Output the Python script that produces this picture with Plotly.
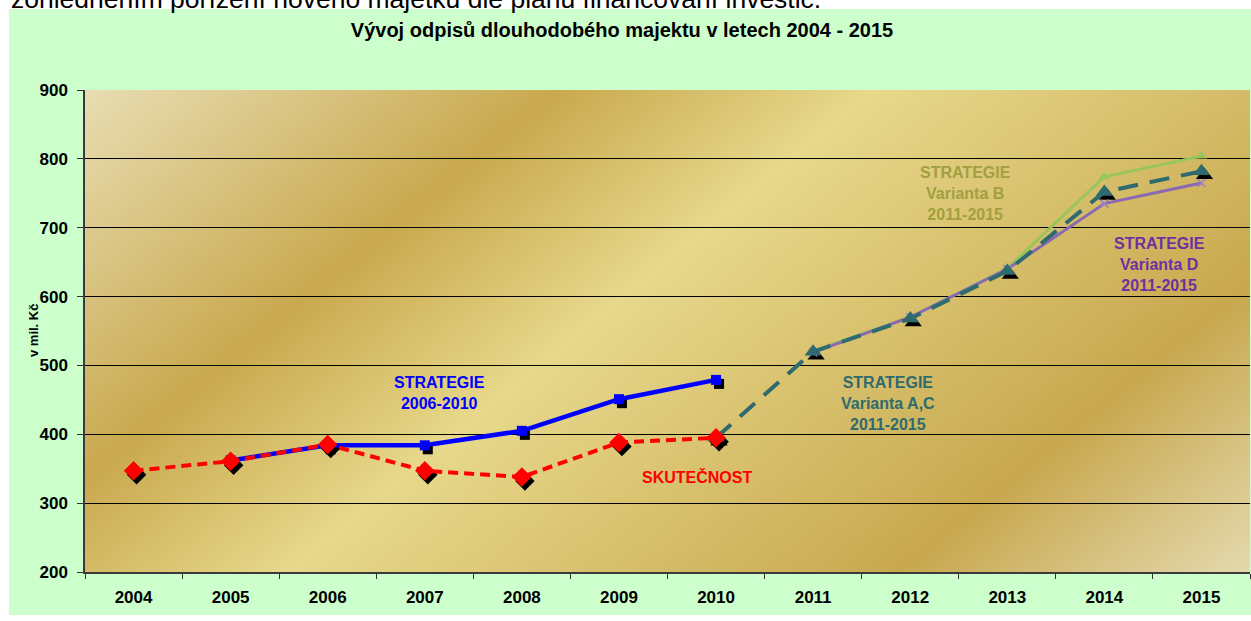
import base64
import plotly.graph_objects as go

years = ["2004", "2005", "2006", "2007", "2008", "2009", "2010",
         "2011", "2012", "2013", "2014", "2015"]
skutecnost = [347, 361, 385, 347, 338, 388, 395, None, None, None, None, None]
strategie_2006_2010 = [None, 362, 384, 384, 405, 451, 479, None, None, None, None, None]
varianta_ac = [None, None, None, None, None, None, 395, 520, 568, 637, 752, 782]
varianta_b = [None, None, None, None, None, None, None, 521, 570, 641, 774, 804]
varianta_d = [None, None, None, None, None, None, None, 519, 570, 640, 735, 765]
y_ticks = [200, 300, 400, 500, 600, 700, 800, 900]

FONT = "Liberation Sans, Arial, sans-serif"

# plot-area geometry (pixels)
L, R, T, B = 85, 1, 90, 49
W, H = 1251, 621
PW, PH = W - L - R, H - T - B

# shadow offset (pixels) -> axis units
sx, sy = 3, 4
dx = sx * 12 / PW
dy = sy * 700 / PH

fig = go.Figure()

# ---- shadows (main axes, shifted range) ----
for vals, sym, size in [(strategie_2006_2010, "square", 10),
                        (varianta_ac, "triangle-up", 15),
                        (skutecnost, "diamond", 15)]:
    fig.add_trace(go.Scatter(x=years, y=vals, mode="markers", xaxis="x", yaxis="y",
                             marker=dict(symbol=sym, size=size, color="black"),
                             hoverinfo="skip", showlegend=False))

# ---- data (overlay axes) ----
fig.add_trace(go.Scatter(x=years, y=strategie_2006_2010, mode="lines+markers",
                         xaxis="x2", yaxis="y2", name="STRATEGIE 2006-2010",
                         line=dict(color="#0000FF", width=4.5),
                         marker=dict(symbol="square", size=10, color="#0000FF")))
fig.add_trace(go.Scatter(x=years, y=varianta_b, mode="lines+markers",
                         xaxis="x2", yaxis="y2", name="Varianta B",
                         line=dict(color="#98C65C", width=3),
                         marker=dict(symbol="triangle-up", size=10, color="#98C65C")))
fig.add_trace(go.Scatter(x=years, y=varianta_d, mode="lines+markers",
                         xaxis="x2", yaxis="y2", name="Varianta D",
                         line=dict(color="#8A68B4", width=3),
                         marker=dict(symbol="x-thin", size=8,
                                     line=dict(color="#9C80C4", width=1.5))))
fig.add_trace(go.Scatter(x=years, y=varianta_ac, mode="lines+markers",
                         xaxis="x2", yaxis="y2", name="Varianta A,C",
                         line=dict(color="#2F6A6E", width=4, dash="20px,12px"),
                         marker=dict(symbol="triangle-up", size=15, color="#2F6A6E")))
fig.add_trace(go.Scatter(x=years, y=skutecnost, mode="lines+markers",
                         xaxis="x2", yaxis="y2", name="SKUTEČNOST",
                         line=dict(color="#FF0000", width=4, dash="10px,6px"),
                         marker=dict(symbol="diamond", size=15, color="#FF0000")))

# ---- gradient background image ----
svg = (
    f'<svg xmlns="http://www.w3.org/2000/svg" width="{PW}" height="{PH}" '
    f'viewBox="0 0 {PW} {PH}" preserveAspectRatio="none"><defs>'
    '<linearGradient id="g" gradientUnits="userSpaceOnUse" x1="0" y1="0" x2="706" y2="860">'
    '<stop offset="0" stop-color="#E8DDB2"/>'
    '<stop offset="0.27" stop-color="#C9A94F"/>'
    '<stop offset="0.45" stop-color="#E7D88B"/>'
    '<stop offset="0.8" stop-color="#C8A84F"/>'
    '<stop offset="1" stop-color="#E4D9AE"/>'
    '</linearGradient></defs>'
    f'<rect width="{PW}" height="{PH}" fill="url(#g)"/></svg>'
)
src = "data:image/svg+xml;base64," + base64.b64encode(svg.encode()).decode()

def px_x(p):
    return (p - L) / PW

def px_y(p):
    return (H - B - p) / PH

tick_font = dict(family=FONT, size=17, color="black", weight="bold")

fig.update_layout(
    width=W, height=H,
    margin=dict(l=L, r=R, t=T, b=B),
    paper_bgcolor="white",
    plot_bgcolor="rgba(0,0,0,0)",
    showlegend=False,
    title=dict(text="<b>Vývoj odpisů dlouhodobého majektu v letech 2004 - 2015</b>",
               x=622 / W, y=1 - 30 / H, xanchor="center", yanchor="middle",
               font=dict(family=FONT, size=20, color="black")),
    xaxis=dict(type="category", categoryorder="array", categoryarray=years,
               range=[-0.5 - dx, 11.5 - dx], visible=False, showgrid=False),
    yaxis=dict(range=[200 + dy, 900 + dy], visible=False, showgrid=False),
    xaxis2=dict(type="category", categoryorder="array", categoryarray=years,
                overlaying="x", anchor="y2", range=[-0.5, 11.5],
                tickson="boundaries", ticks="outside", ticklen=5, tickcolor="#333",
                showline=True, linecolor="#3a3a3a", linewidth=2, showgrid=False,
                tickfont=tick_font, ticklabelstandoff=9),
    yaxis2=dict(overlaying="y", anchor="x2", side="left", range=[200, 900],
                tickvals=y_ticks, ticks="outside", ticklen=6, tickcolor="#333",
                showline=True, linecolor="#3a3a3a", linewidth=1.5,
                showgrid=True, gridcolor="black", gridwidth=1, zeroline=False,
                tickfont=tick_font, ticklabelstandoff=6),
    images=[dict(source=src, xref="x domain", yref="y domain", x=0, y=1,
                 sizex=1, sizey=1, xanchor="left", yanchor="top",
                 sizing="stretch", layer="below")],
    shapes=[dict(type="rect", xref="paper", yref="paper",
                 x0=px_x(9), x1=px_x(W + 2), y0=px_y(615), y1=px_y(9),
                 fillcolor="#CCFFCC", line=dict(width=0), layer="below")],
)

ann_font = lambda c: dict(family=FONT, size=16, color=c)
annotations = [
    dict(text="<b>STRATEGIE<br>2006-2010</b>", x=3.15, y=460, color="#0000FF"),
    dict(text="<b>SKUTEČNOST</b>", x=5.80, y=338, color="#FF0000"),
    dict(text="<b>STRATEGIE<br>Varianta A,C<br>2011-2015</b>", x=7.77, y=444, color="#2F6A6E"),
    dict(text="<b>STRATEGIE<br>Varianta B<br>2011-2015</b>", x=8.57, y=750, color="#A0A040"),
    dict(text="<b>STRATEGIE<br>Varianta D<br>2011-2015</b>", x=10.57, y=646, color="#7030A0"),
]
for a in annotations:
    fig.add_annotation(text=a["text"], x=a["x"], y=a["y"], xref="x2", yref="y2",
                       showarrow=False, xanchor="center", yanchor="middle",
                       font=ann_font(a["color"]))

# y-axis title
fig.add_annotation(text="<b>v mil. Kč</b>", x=px_x(33), y=px_y(331), xref="paper", yref="paper",
                   showarrow=False, textangle=-90, xanchor="center", yanchor="middle",
                   font=dict(family=FONT, size=13, color="black"))

# truncated text line at the very top (cut off in the reference too)
fig.add_annotation(text="zohledněním pořízení nového majetku dle plánu financování investic.",
                   x=px_x(9), y=px_y(16), xref="paper", yref="paper",
                   showarrow=False, xanchor="left", yanchor="bottom",
                   font=dict(family=FONT, size=26.5, color="black"))

fig.write_html("out.html",
               config={"displayModeBar": False},
               post_script="document.body.style.margin='0px';document.body.style.overflow='hidden';")
